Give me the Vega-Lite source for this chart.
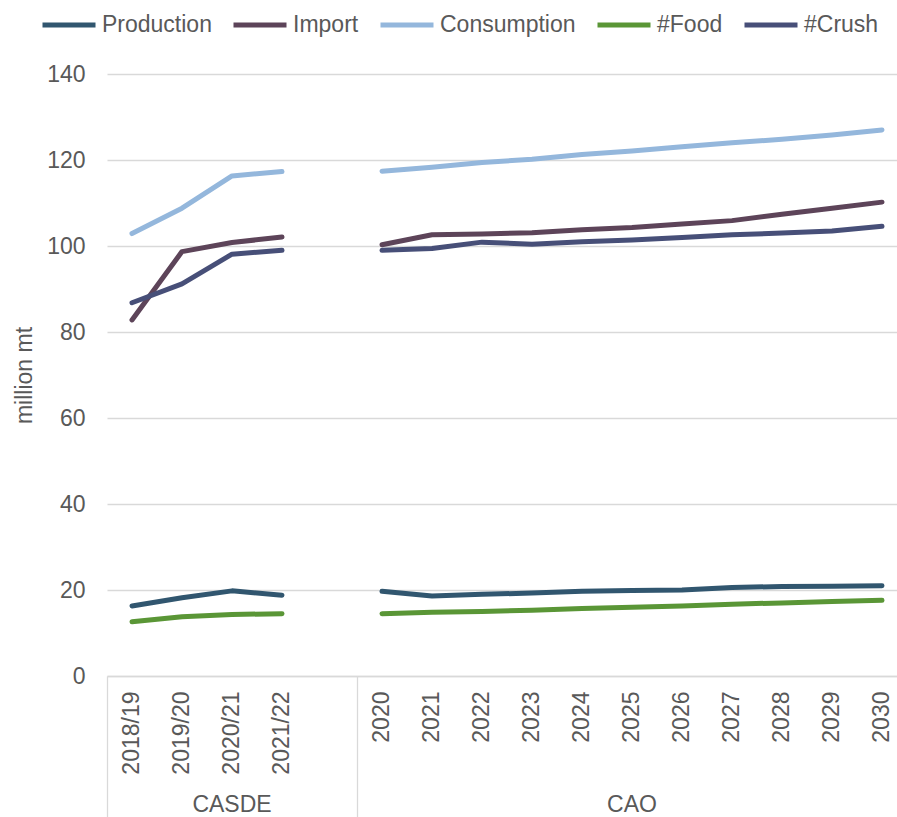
{
  "$schema": "https://vega.github.io/schema/vega-lite/v6.json",
  "autosize": {"type": "none"},
  "padding": {"left": 107, "top": 74, "right": 0, "bottom": 141},
  "width": 790,
  "height": 602,
  "config": {
    "view": {"stroke": null},
    "font": "Liberation Sans",
    "axis": {"labelFont": "Liberation Sans", "titleFont": "Liberation Sans", "labelColor": "#595959", "titleColor": "#595959"},
    "legend": {"labelFont": "Liberation Sans", "labelColor": "#595959"}
  },
  "datasets": {
    "series": [
      {"series": "Production", "group": "CASDE", "category": "2018/19", "value": 16.3},
      {"series": "Production", "group": "CASDE", "category": "2019/20", "value": 18.2},
      {"series": "Production", "group": "CASDE", "category": "2020/21", "value": 19.8},
      {"series": "Production", "group": "CASDE", "category": "2021/22", "value": 18.8},
      {"series": "Production", "group": "CAO", "category": "2020", "value": 19.7},
      {"series": "Production", "group": "CAO", "category": "2021", "value": 18.6},
      {"series": "Production", "group": "CAO", "category": "2022", "value": 19.0},
      {"series": "Production", "group": "CAO", "category": "2023", "value": 19.3},
      {"series": "Production", "group": "CAO", "category": "2024", "value": 19.7},
      {"series": "Production", "group": "CAO", "category": "2025", "value": 19.9},
      {"series": "Production", "group": "CAO", "category": "2026", "value": 20.0},
      {"series": "Production", "group": "CAO", "category": "2027", "value": 20.6},
      {"series": "Production", "group": "CAO", "category": "2028", "value": 20.8},
      {"series": "Production", "group": "CAO", "category": "2029", "value": 20.9},
      {"series": "Production", "group": "CAO", "category": "2030", "value": 21.0},
      {"series": "Import", "group": "CASDE", "category": "2018/19", "value": 82.8},
      {"series": "Import", "group": "CASDE", "category": "2019/20", "value": 98.7},
      {"series": "Import", "group": "CASDE", "category": "2020/21", "value": 100.8},
      {"series": "Import", "group": "CASDE", "category": "2021/22", "value": 102.1},
      {"series": "Import", "group": "CAO", "category": "2020", "value": 100.3},
      {"series": "Import", "group": "CAO", "category": "2021", "value": 102.6},
      {"series": "Import", "group": "CAO", "category": "2022", "value": 102.8},
      {"series": "Import", "group": "CAO", "category": "2023", "value": 103.1},
      {"series": "Import", "group": "CAO", "category": "2024", "value": 103.8},
      {"series": "Import", "group": "CAO", "category": "2025", "value": 104.3},
      {"series": "Import", "group": "CAO", "category": "2026", "value": 105.1},
      {"series": "Import", "group": "CAO", "category": "2027", "value": 105.9},
      {"series": "Import", "group": "CAO", "category": "2028", "value": 107.4},
      {"series": "Import", "group": "CAO", "category": "2029", "value": 108.8},
      {"series": "Import", "group": "CAO", "category": "2030", "value": 110.2},
      {"series": "Consumption", "group": "CASDE", "category": "2018/19", "value": 102.9},
      {"series": "Consumption", "group": "CASDE", "category": "2019/20", "value": 108.8},
      {"series": "Consumption", "group": "CASDE", "category": "2020/21", "value": 116.3},
      {"series": "Consumption", "group": "CASDE", "category": "2021/22", "value": 117.3},
      {"series": "Consumption", "group": "CAO", "category": "2020", "value": 117.4},
      {"series": "Consumption", "group": "CAO", "category": "2021", "value": 118.3},
      {"series": "Consumption", "group": "CAO", "category": "2022", "value": 119.4},
      {"series": "Consumption", "group": "CAO", "category": "2023", "value": 120.2},
      {"series": "Consumption", "group": "CAO", "category": "2024", "value": 121.3},
      {"series": "Consumption", "group": "CAO", "category": "2025", "value": 122.1},
      {"series": "Consumption", "group": "CAO", "category": "2026", "value": 123.1},
      {"series": "Consumption", "group": "CAO", "category": "2027", "value": 124.0},
      {"series": "Consumption", "group": "CAO", "category": "2028", "value": 124.8},
      {"series": "Consumption", "group": "CAO", "category": "2029", "value": 125.8},
      {"series": "Consumption", "group": "CAO", "category": "2030", "value": 127.0},
      {"series": "#Food", "group": "CASDE", "category": "2018/19", "value": 12.6},
      {"series": "#Food", "group": "CASDE", "category": "2019/20", "value": 13.8},
      {"series": "#Food", "group": "CASDE", "category": "2020/21", "value": 14.3},
      {"series": "#Food", "group": "CASDE", "category": "2021/22", "value": 14.5},
      {"series": "#Food", "group": "CAO", "category": "2020", "value": 14.5},
      {"series": "#Food", "group": "CAO", "category": "2021", "value": 14.8},
      {"series": "#Food", "group": "CAO", "category": "2022", "value": 15.0},
      {"series": "#Food", "group": "CAO", "category": "2023", "value": 15.3},
      {"series": "#Food", "group": "CAO", "category": "2024", "value": 15.7},
      {"series": "#Food", "group": "CAO", "category": "2025", "value": 16.0},
      {"series": "#Food", "group": "CAO", "category": "2026", "value": 16.3},
      {"series": "#Food", "group": "CAO", "category": "2027", "value": 16.7},
      {"series": "#Food", "group": "CAO", "category": "2028", "value": 17.0},
      {"series": "#Food", "group": "CAO", "category": "2029", "value": 17.3},
      {"series": "#Food", "group": "CAO", "category": "2030", "value": 17.6},
      {"series": "#Crush", "group": "CASDE", "category": "2018/19", "value": 86.8},
      {"series": "#Crush", "group": "CASDE", "category": "2019/20", "value": 91.2},
      {"series": "#Crush", "group": "CASDE", "category": "2020/21", "value": 98.1},
      {"series": "#Crush", "group": "CASDE", "category": "2021/22", "value": 99.0},
      {"series": "#Crush", "group": "CAO", "category": "2020", "value": 99.0},
      {"series": "#Crush", "group": "CAO", "category": "2021", "value": 99.4},
      {"series": "#Crush", "group": "CAO", "category": "2022", "value": 100.9},
      {"series": "#Crush", "group": "CAO", "category": "2023", "value": 100.4},
      {"series": "#Crush", "group": "CAO", "category": "2024", "value": 101.0},
      {"series": "#Crush", "group": "CAO", "category": "2025", "value": 101.4},
      {"series": "#Crush", "group": "CAO", "category": "2026", "value": 102.0},
      {"series": "#Crush", "group": "CAO", "category": "2027", "value": 102.6},
      {"series": "#Crush", "group": "CAO", "category": "2028", "value": 103.0},
      {"series": "#Crush", "group": "CAO", "category": "2029", "value": 103.5},
      {"series": "#Crush", "group": "CAO", "category": "2030", "value": 104.6}
    ],
    "groups": [
      {"category": "2018/19", "group": "CASDE"},
      {"category": "2020", "group": "CAO"}
    ]
  },
  "resolve": {"axis": {"x": "independent"}},
  "layer": [
    {
      "data": {"name": "series"},
      "mark": {"type": "line", "strokeWidth": 5, "strokeCap": "round", "strokeJoin": "round"},
      "encoding": {
        "x": {
          "field": "category",
          "type": "ordinal",
          "bandPosition": 0.5,
          "scale": {
            "type": "band",
            "domain": ["2018/19", "2019/20", "2020/21", "2021/22", " ", "2020", "2021", "2022", "2023", "2024", "2025", "2026", "2027", "2028", "2029", "2030"],
            "range": [0, 800],
            "paddingInner": 0,
            "paddingOuter": 0
          },
          "axis": {
            "orient": "bottom",
            "title": null,
            "labelAngle": 270,
            "labelFontSize": 23,
            "labelPadding": 15,
            "labelOverlap": false,
            "ticks": false,
            "domain": true,
            "domainColor": "#D9D9D9",
            "domainWidth": 1.3,
            "grid": false
          }
        },
        "y": {
          "field": "value",
          "type": "quantitative",
          "scale": {"domain": [0, 140], "nice": false, "zero": true},
          "axis": {
            "title": "million mt",
            "titleFontSize": 23,
            "titleFontWeight": "normal",
            "titlePadding": 10,
            "labelFontSize": 23,
            "labelPadding": 22,
            "values": [0, 20, 40, 60, 80, 100, 120, 140],
            "domain": false,
            "ticks": false,
            "grid": true,
            "gridColor": "#D9D9D9",
            "gridWidth": 1.3
          }
        },
        "color": {
          "field": "series",
          "type": "nominal",
          "scale": {
            "domain": ["Production", "Import", "Consumption", "#Food", "#Crush"],
            "range": ["#31566F", "#5D4459", "#94B7DC", "#5A9636", "#474F78"]
          },
          "legend": {
            "title": null,
            "orient": "none",
            "direction": "horizontal",
            "columns": 5,
            "legendX": -67,
            "legendY": -78,
            "symbolType": "stroke",
            "symbolSize": 2809,
            "symbolStrokeWidth": 5,
            "labelFontSize": 23,
            "labelOffset": 4,
            "columnPadding": 11
          }
        },
        "detail": {"field": "group", "type": "nominal"}
      }
    },
    {
      "data": {"name": "groups"},
      "mark": {"type": "rule", "strokeOpacity": 0},
      "encoding": {
        "x": {
          "field": "category",
          "type": "ordinal",
          "axis": {
            "orient": "bottom",
            "title": null,
            "values": ["2018/19", "2020"],
            "bandPosition": 0,
            "labelExpr": "datum.value == '2018/19' ? 'CASDE' : 'CAO'",
            "labelAngle": 0,
            "labelAlign": "center",
            "labelBaseline": "top",
            "labelFontSize": 23,
            "labelOverlap": false,
            "labelOffset": {"condition": {"test": "datum.value == '2018/19'", "value": 100}, "value": 250},
            "labelPadding": -24,
            "ticks": true,
            "tickSize": 141,
            "tickColor": "#D9D9D9",
            "tickWidth": 1.3,
            "domain": false,
            "grid": false
          }
        }
      }
    }
  ]
}
